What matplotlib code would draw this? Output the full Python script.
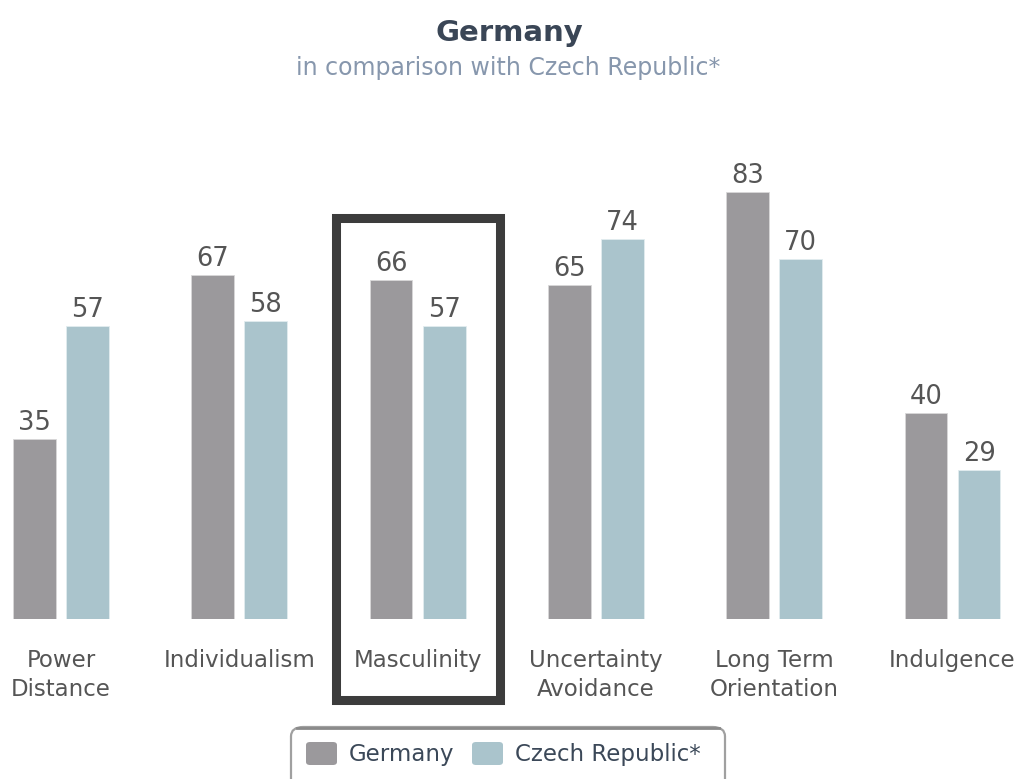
import numpy as np
import matplotlib.pyplot as plt
import matplotlib.patches as patches
import matplotlib.transforms as mtransforms

# ---- data ----
dimensiones = ["Power\nDistance", "Individualism", "Masculinity",
               "Uncertainty\nAvoidance", "Long Term\nOrientation", "Indulgence"]
alemania = [35, 67, 66, 65, 83, 40]
chequia = [57, 58, 57, 74, 70, 29]
series = ["Germany", "Czech Republic*"]

COLOR_DE = "#9b999c"
COLOR_CZ = "#aac4cc"
COLOR_TXT = "#555555"

W, H = 1024, 779
fig = plt.figure(figsize=(W / 100, H / 100), dpi=100)
fig.patch.set_facecolor("white")

# axes spanning the full width, baseline at 619 px from top
paso = 178.3
x0 = 61.0
ax = fig.add_axes([0, (H - 619) / H, 1, 514 / H])
ax.set_xlim(-x0 / paso, (W - x0) / paso)
ax.set_ylim(0, 100)
ax.axis("off")

x = np.arange(len(dimensiones))
ancho = 0.24
desp = 0.149
b1 = ax.bar(x - desp, alemania, ancho, color=COLOR_DE, edgecolor="#d8d8d8", linewidth=0.6)
b2 = ax.bar(x + desp, chequia, ancho, color=COLOR_CZ, edgecolor="#e2ecef", linewidth=0.6)

# value on top of every bar
for barras, vals in [(b1, alemania), (b2, chequia)]:
    for b, v in zip(barras, vals):
        ax.text(b.get_x() + b.get_width() / 2, v + 0.6, str(v),
                ha="center", va="bottom", fontsize=18.5, color=COLOR_TXT)

for xi, nombre in zip(x, dimensiones):
    ax.text(xi, -5.9, nombre, ha="center", va="top", fontsize=16.5,
            color=COLOR_TXT, linespacing=1.3, clip_on=False)

# highlight box around Masculinity
trans = mtransforms.blended_transform_factory(ax.transData, fig.transFigure)
caja = patches.Rectangle((2 - 0.46, (H - 700) / H), 0.92, 482 / H,
                         transform=trans, fill=False, edgecolor="#3c3c3c",
                         linewidth=6.5, clip_on=False)
fig.add_artist(caja)

# titles
fig.text(0.497, 1 - 33 / H, "Germany", ha="center", va="center",
         fontsize=21, fontweight="bold", color="#3a4656")
fig.text(0.496, 1 - 68 / H, "in comparison with Czech Republic*", ha="center",
         va="center", fontsize=17, color="#8797ad")

# legend box, cut by the bottom edge
leyenda = patches.FancyBboxPatch((291 / W, -0.05), 434 / W, (H - 727) / H + 0.05,
                                 boxstyle="round,pad=0,rounding_size=0.012",
                                 transform=fig.transFigure, facecolor="white",
                                 edgecolor="#a0a0a0", linewidth=1.6)
fig.add_artist(leyenda)
fig.add_artist(plt.Line2D([297 / W, 719 / W], [(H - 728) / H] * 2,
                          transform=fig.transFigure, color="#8a8a8a", linewidth=2))
for xs, color, nombre in [(306, COLOR_DE, series[0]), (472, COLOR_CZ, series[1])]:
    fig.add_artist(patches.FancyBboxPatch((xs / W, (H - 765) / H), 31 / W, 23 / H,
                                          boxstyle="round,pad=0,rounding_size=0.004",
                                          transform=fig.transFigure,
                                          facecolor=color, edgecolor="none"))
    fig.text((xs + 43) / W, 1 - 754 / H, nombre, ha="left", va="center",
             fontsize=16.5, color="#3b4858")

fig.savefig("out.png", dpi=100, facecolor="white")
